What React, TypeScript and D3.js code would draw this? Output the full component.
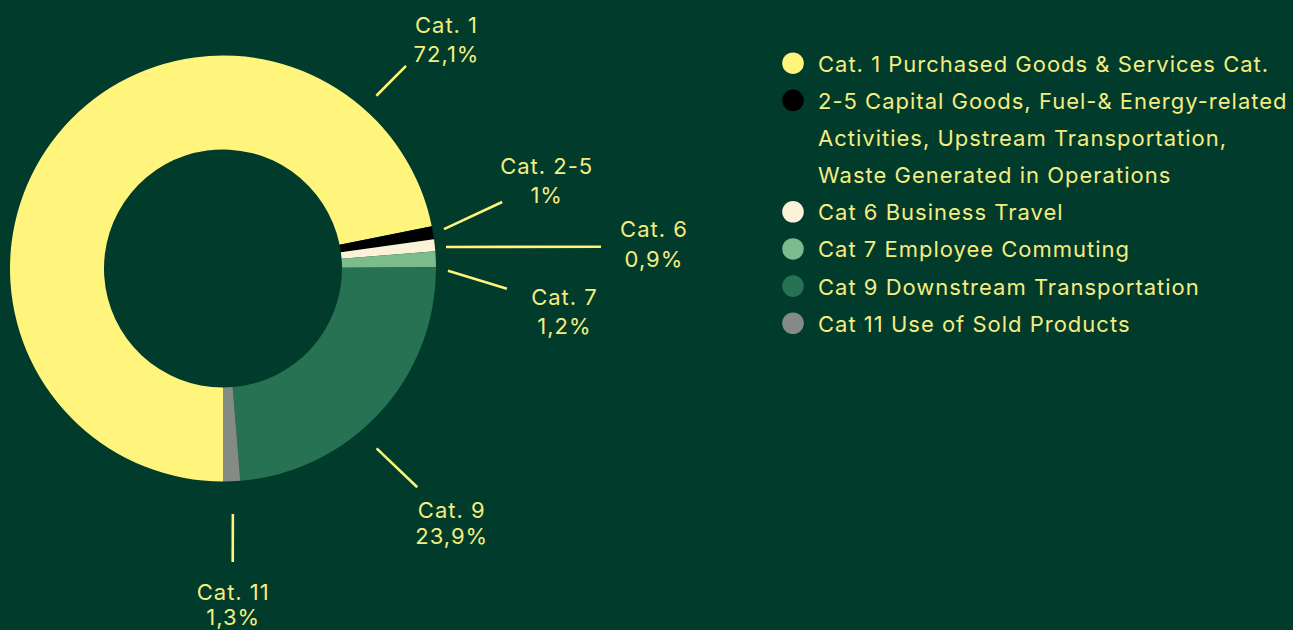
import React, { useEffect } from "react";
import * as d3 from "d3";

const categories = ["Cat. 1", "Cat. 2-5", "Cat. 6", "Cat. 7", "Cat. 9", "Cat. 11"];
const values = [72.1, 1, 0.9, 1.2, 23.9, 1.3];
const valueLabels = ["72,1%", "1%", "0,9%", "1,2%", "23,9%", "1,3%"];
const colors = ["#fff47c", "#000000", "#fcf2d8", "#7bbb8c", "#277252", "#848b86"];
const legendLabels = [
  ["Cat. 1 Purchased Goods & Services Cat."],
  ["2-5 Capital Goods, Fuel-& Energy-related", "Activities, Upstream Transportation,", "Waste Generated in Operations"],
  ["Cat 6 Business Travel"],
  ["Cat 7 Employee Commuting"],
  ["Cat 9 Downstream Transportation"],
  ["Cat 11 Use of Sold Products"],
];

// label leader layout (polar around pie center): [a0, r0, a1, r1, textDx, textDy, lineGap]
const labelLayout = [
  [41.6, 231, 42.1, 273, 40, -33, 29],
  [79.9, 224.5, 76.6, 287, 44, -28, 29],
  [84.5, 224, 86.7, 378.6, 52.5, -10, 30],
  [90.6, 225, 94.1, 284.7, 57, 16, 29],
  [139.5, 236.5, 138.4, 292.6, 34, 31, 26],
  [177.7, 245.7, 178.1, 293.7, 0, 38, 25],
];

const W = 1293;
const H = 630;
const BG = "#003b2b";
const TEXT = "#f6ec80";
const LINE = "#fff47c";
const FONT = "Inter, 'Open Sans', sans-serif";
const FS = 22;
const LS = 1;

export default function App() {
  useEffect(() => {
    document.body.style.margin = "0";
    document.body.style.background = BG;
  }, []);

  const cx = 223;
  const cy = 268.5;
  const R = 213;
  const r = 119;

  const pie = d3
    .pie<number>()
    .sort(null)
    .startAngle(Math.PI)
    .endAngle(3 * Math.PI)
    .value((d) => d);
  const arcs = pie(values);
  const arc = d3.arc<d3.PieArcDatum<number>>().innerRadius(r).outerRadius(R);

  const polar = (deg: number, rad: number): [number, number] => {
    const a = (deg * Math.PI) / 180;
    return [Math.sin(a) * rad, -Math.cos(a) * rad];
  };

  const legendX = 793;
  const legendY0 = 71.7;
  const rowH = 37.15;
  let row = 0;

  return (
    <svg width={W} height={H} style={{ display: "block", background: BG }} fontFamily={FONT} letterSpacing={LS}>
      <rect x={0} y={0} width={W} height={H} fill={BG} />
      <g transform={`translate(${cx},${cy})`}>
        {arcs.map((a, i) => (
          <path key={i} d={arc(a) || ""} fill={colors[i]} />
        ))}
        {labelLayout.map((l, i) => {
          const [x0, y0] = polar(l[0], l[1]);
          const [x1, y1] = polar(l[2], l[3]);
          const tx = x1 + l[4] + LS / 2;
          const ty = y1 + l[5];
          return (
            <g key={i}>
              <line x1={x0} y1={y0} x2={x1} y2={y1} stroke={LINE} strokeWidth={2.6} />
              <text x={tx} y={ty} textAnchor="middle" fill={TEXT} fontSize={FS}>
                {categories[i]}
              </text>
              <text x={tx} y={ty + l[6]} textAnchor="middle" fill={TEXT} fontSize={FS}>
                {valueLabels[i]}
              </text>
            </g>
          );
        })}
      </g>
      <g>
        {legendLabels.map((lines, i) => {
          const startRow = row;
          row += lines.length;
          const by = legendY0 + startRow * rowH;
          return (
            <g key={i}>
              <circle cx={legendX} cy={by - 8.5} r={10.8} fill={colors[i]} />
              {lines.map((t, j) => (
                <text key={j} x={818} y={by + j * rowH} fill={TEXT} fontSize={FS}>
                  {t}
                </text>
              ))}
            </g>
          );
        })}
      </g>
    </svg>
  );
}
